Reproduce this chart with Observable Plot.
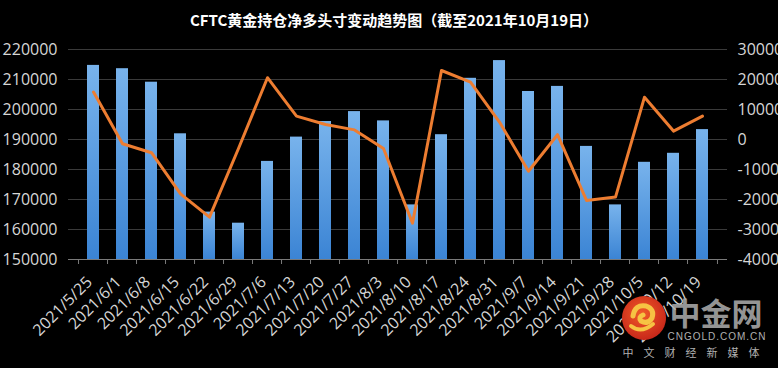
<!DOCTYPE html>
<html><head><meta charset="utf-8">
<script src="https://cdn.jsdelivr.net/npm/d3@7"></script>
<script src="https://cdn.jsdelivr.net/npm/@observablehq/plot@0.6"></script>
<style>
html,body{margin:0;padding:0;background:#000;}
body{width:778px;height:368px;overflow:hidden;position:relative;font-family:"Open Sans",sans-serif;}
#title{position:absolute;top:9px;left:5px;width:778px;text-align:center;color:#fff;font-weight:bold;font-size:15px;font-family:"Noto Sans CJK SC",sans-serif;white-space:nowrap;}
#wm{position:absolute;left:0;top:0;pointer-events:none;}
</style></head>
<body>
<div id="chart"></div>
<div id="title">CFTC黄金持仓净多头寸变动趋势图（截至2021年10月19日）</div>
<script>
// categories
const dates = ["2021/5/25","2021/6/1","2021/6/8","2021/6/15","2021/6/22","2021/6/29","2021/7/6","2021/7/13","2021/7/20","2021/7/27","2021/8/3","2021/8/10","2021/8/17","2021/8/24","2021/8/31","2021/9/7","2021/9/14","2021/9/21","2021/9/28","2021/10/5","2021/10/12","2021/10/19"];
// bars: gold holdings (left axis)
const holdings = [214700,213600,209100,191900,165800,162100,182700,190800,196000,199300,196200,168200,191600,210400,216300,206000,207700,187700,168200,182400,185400,193300];
// line: net long change (right axis)
const netChange = [15800,-1400,-4400,-18100,-25900,-3000,20600,7800,5000,3200,-3000,-27900,23000,19100,5800,-10600,1600,-20300,-19200,14100,2800,7800];
// tick labels
const leftTicks = [150000,160000,170000,180000,190000,200000,210000,220000];
const rightTicks = [-40000,-30000,-20000,-10000,0,10000,20000,30000];
const rightOffset = 190000; // right axis 0 aligns with left 190000 (same span)

const W = 778, H = 368, mL = 68, mR = 51, mT = 49, mB = 109;
const step = (W - mL - mR) / dates.length;
const data = dates.map((d, i) => ({date: d, hold: holdings[i], net: netChange[i]}));

const chart = Plot.plot({
  width: W, height: H,
  marginTop: mT, marginBottom: mB, marginLeft: mL, marginRight: mR,
  style: {background: "#000", color: "#d6d6d6", fontFamily: "'Open Sans', sans-serif", fontSize: "16px", overflow: "visible"},
  x: {domain: dates, paddingInner: 0.6, paddingOuter: 0.3, axis: null},
  y: {domain: [150000, 220000], axis: null},
  marks: [
    Plot.gridY(leftTicks.slice(1), {stroke: "#3a3a3a", strokeOpacity: 1}),
    Plot.barY(data, {x: "date", y1: 150000, y2: "hold", fill: "url(#barGrad)"}),
    Plot.ruleY([150000], {stroke: "#7a7a7a"}),
    Plot.ruleX(dates, {x: d => d, y1: 150000, y2: 150000, insetBottom: -5, dx: -step / 2, stroke: "#7a7a7a"}),
    Plot.ruleX([dates[dates.length - 1]], {x: d => d, y1: 150000, y2: 150000, insetBottom: -5, dx: step / 2, stroke: "#7a7a7a"}),
    Plot.line(data, {x: "date", y: d => d.net + rightOffset, stroke: "#ed7d31", strokeWidth: 3}),
    Plot.axisY(leftTicks, {anchor: "left", label: null, tickSize: 0, tickPadding: 11, fontSize: 16, tickFormat: d => String(d)}),
    Plot.axisY(rightTicks.map(v => v + rightOffset), {anchor: "right", label: null, tickSize: 0, tickPadding: 10, fontSize: 16, tickFormat: d => String(d - rightOffset)}),
    Plot.axisX({label: null, tickRotate: -45, tickSize: 0, tickPadding: 12, dx: -4, dy: 8, fontSize: 16})
  ]
});

const ns = "http://www.w3.org/2000/svg";
const defs = document.createElementNS(ns, "defs");
defs.innerHTML = `<linearGradient id="barGrad" x1="0" y1="0" x2="0" y2="1">
  <stop offset="0" stop-color="#78b3ec"/><stop offset="1" stop-color="#3b84d4"/></linearGradient>`;
chart.insertBefore(defs, chart.firstChild);
document.getElementById("chart").appendChild(chart);

// watermark
const wm = document.createElementNS(ns, "svg");
wm.setAttribute("id", "wm");
wm.setAttribute("width", W); wm.setAttribute("height", H);
wm.innerHTML = `<defs><radialGradient id="lg" cx="0.45" cy="0.4" r="0.6">
  <stop offset="0" stop-color="#f05a28"/><stop offset="1" stop-color="#c8281a"/></radialGradient></defs>
  <circle cx="644" cy="318" r="22" fill="url(#lg)"/>
  <path d="M633,316 q2,-12 13,-10 q9,3 6,12 q-4,7 -11,3 q-3,-4 2,-6" fill="none" stroke="#f6c343" stroke-width="5" stroke-linecap="round"/>
  <path d="M631,326 q10,8 22,-2" fill="none" stroke="#f6c343" stroke-width="4" stroke-linecap="round"/>
  <text x="716" y="325" text-anchor="middle" font-family="Noto Sans CJK SC" font-weight="bold" font-size="31" fill="#b0b0b0" fill-opacity="0.85">中金网</text>
  <text x="717" y="340" text-anchor="middle" font-family="Liberation Sans" font-size="10" fill="#b0b0b0" letter-spacing="1">CNGOLD.COM.CN</text>
  <text x="696" y="357" text-anchor="middle" font-family="Noto Sans CJK SC" font-size="11" fill="#b0b0b0" letter-spacing="10">中文财经新媒体</text>`;
document.body.appendChild(wm);
</script>
</body></html>
